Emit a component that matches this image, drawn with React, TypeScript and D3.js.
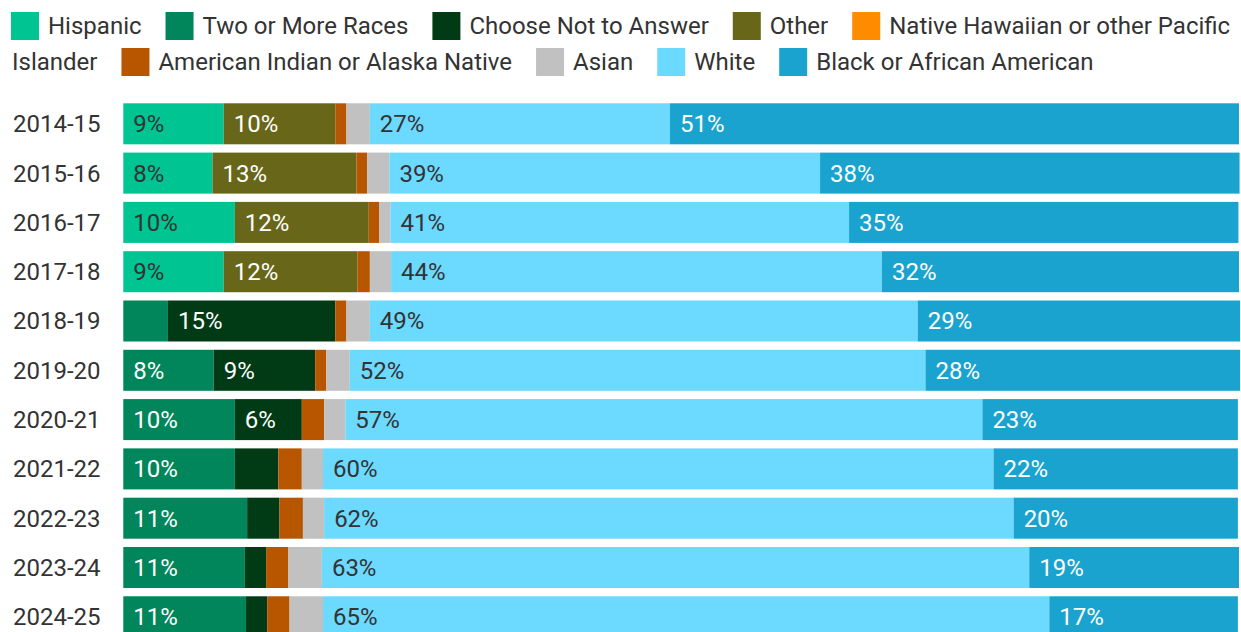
import React, { useEffect, useRef } from 'react';
import * as d3 from 'd3';

const years = ['2014-15', '2015-16', '2016-17', '2017-18', '2018-19', '2019-20', '2020-21', '2021-22', '2022-23', '2023-24', '2024-25'];

const groups = [
  'Hispanic',
  'Two or More Races',
  'Choose Not to Answer',
  'Other',
  'Native Hawaiian or other Pacific Islander',
  'American Indian or Alaska Native',
  'Asian',
  'White',
  'Black or African American',
];

const colors = ['#00c491', '#00865a', '#003b16', '#686619', '#ff8c00', '#b85600', '#c1c1c1', '#6cd9ff', '#1aa3cf'];
const darkText = [true, false, false, false, true, false, true, true, false];

// shares in percent, one value per year, stacked in the order of groups
const hispanic = [9.0, 8.0, 10.0, 9.0, 0, 0, 0, 0, 0, 0, 0];
const twoOrMore = [0, 0, 0, 0, 4.0, 8.1, 10.0, 10.0, 11.1, 10.9, 11.0];
const chooseNot = [0, 0, 0, 0, 15.0, 9.1, 6.0, 3.9, 2.9, 1.9, 1.9];
const other = [10.0, 12.9, 12.0, 12.0, 0, 0, 0, 0, 0, 0, 0];
const hawaiian = [0, 0, 0, 0, 0, 0, 0, 0, 0, 0, 0];
const amIndian = [1.0, 0.95, 0.95, 1.1, 1.0, 1.0, 2.0, 2.1, 2.1, 2.0, 2.0];
const asian = [2.1, 2.0, 1.0, 1.9, 2.1, 2.1, 1.9, 1.9, 1.9, 3.0, 3.0];
const white = [26.9, 38.6, 41.1, 44.0, 49.1, 51.6, 57.1, 60.1, 61.8, 63.4, 65.1];
const black = [51.0, 37.6, 34.9, 32.0, 28.9, 28.2, 22.9, 21.9, 20.1, 18.8, 16.9];

const series = [hispanic, twoOrMore, chooseNot, other, hawaiian, amIndian, asian, white, black];

const W = 1241;
const H = 632;
const FONT = 'Roboto, sans-serif';
const FS = 24;

export default function App() {
  const ref = useRef<SVGSVGElement>(null);

  useEffect(() => {
    document.body.style.margin = '0';
    const svg = d3.select(ref.current);
    svg.selectAll('*').remove();

    // legend, wrapped word by word like inline text
    const legend = svg.append('g');
    const maxX = 1238;
    const lineH = 36;
    let lx = 11;
    let line = 0;
    const measure = (s: string) => {
      const t = legend.append('text').attr('font-family', FONT).attr('font-size', FS).text(s);
      const w = (t.node() as SVGTextElement).getComputedTextLength();
      t.remove();
      return w;
    };
    const spaceW = measure('a b') - measure('ab');
    groups.forEach((g, i) => {
      const words = g.split(' ');
      if (lx + 37 + measure(words[0]) > maxX) {
        line += 1;
        lx = 11;
      }
      legend.append('rect')
        .attr('x', lx).attr('y', 12 + line * lineH)
        .attr('width', 28).attr('height', 28)
        .attr('fill', colors[i]);
      lx += 37;
      let first = true;
      words.forEach((w) => {
        const ww = measure(w);
        if (!first && lx + spaceW + ww > maxX) {
          line += 1;
          lx = 12;
        } else if (!first) {
          lx += spaceW;
        }
        legend.append('text')
          .attr('x', lx).attr('y', 26 + line * lineH)
          .attr('dy', '0.35em')
          .attr('font-family', FONT).attr('font-size', FS)
          .attr('fill', '#333')
          .text(w);
        lx += ww;
        first = false;
      });
      lx += 24;
    });

    const x = d3.scaleLinear().domain([0, 100]).range([123.3, 1239]);
    const y = d3.scaleBand().domain(years).range([103.3, 637.3]).paddingInner(0.168).paddingOuter(0);

    svg.append('g')
      .selectAll('text')
      .data(years)
      .join('text')
      .attr('x', 13)
      .attr('y', (d) => (y(d) as number) + y.bandwidth() / 2)
      .attr('dy', '0.35em')
      .attr('font-family', FONT)
      .attr('font-size', FS)
      .attr('fill', '#333')
      .text((d) => d);

    const rows = svg.append('g');
    years.forEach((yr, j) => {
      let acc = 0;
      series.forEach((s, i) => {
        const v = s[j];
        const x0 = x(acc);
        acc += v;
        if (v <= 0) return;
        const x1 = x(acc);
        rows.append('rect')
          .attr('x', x0).attr('y', y(yr) as number)
          .attr('width', x1 - x0).attr('height', y.bandwidth())
          .attr('fill', colors[i]);
        if (Math.round(v) >= 5) {
          rows.append('text')
            .attr('x', x0 + 10)
            .attr('y', (y(yr) as number) + y.bandwidth() / 2)
            .attr('dy', '0.35em')
            .attr('font-family', FONT)
            .attr('font-size', FS)
            .attr('fill', darkText[i] ? '#333' : '#fff')
            .text(`${Math.round(v)}%`);
        }
      });
    });
  }, []);

  return <svg ref={ref} width={W} height={H} style={{ display: 'block', background: '#fff' }} />;
}
